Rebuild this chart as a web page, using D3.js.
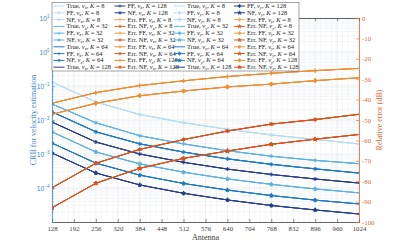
<!DOCTYPE html>
<html><head><meta charset="utf-8">
<script src="https://cdn.jsdelivr.net/npm/d3@7"></script>
<style>html,body{margin:0;padding:0;background:#fff;} svg{display:block;font-family:"Liberation Serif","DejaVu Serif",serif;}</style>
</head><body><svg id="c" width="397" height="249"></svg>
<script>
// ---------- data ----------
const antennas = [128, 256, 384, 512, 640, 768, 896, 1024];
const xTicks = [128, 192, 256, 320, 384, 448, 512, 576, 640, 704, 768, 832, 896, 960, 1024];
const kValues = [8, 32, 64, 128];
// CRB (True / FF / NF coincide), rows = K 8,32,64,128
const crbVx = [
  [1.31e-1, 3.38e-2, 1.45e-2, 8.34e-3, 5.32e-3, 3.62e-3, 2.70e-3, 1.97e-3],
  [2.95e-2, 8.3e-3, 3.45e-3, 1.98e-3, 1.25e-3, 8.6e-4, 6.5e-4, 5.2e-4],
  [1.74e-2, 4.5e-3, 1.99e-3, 1.14e-3, 7.2e-4, 4.97e-4, 3.66e-4, 2.75e-4],
  [8.7e-3, 2.25e-3, 1.0e-3, 5.7e-4, 3.6e-4, 2.5e-4, 1.84e-4, 1.40e-4]
];
const crbVy = [
  [1.72e-2, 4.45e-3, 1.97e-3, 1.13e-3, 7.15e-4, 4.93e-4, 3.63e-4, 2.77e-4],
  [4.47e-3, 1.15e-3, 5.12e-4, 2.92e-4, 1.85e-4, 1.28e-4, 9.4e-5, 7.2e-5],
  [2.09e-3, 5.4e-4, 2.39e-4, 1.36e-4, 8.7e-5, 6.0e-5, 4.4e-5, 3.4e-5],
  [1.07e-3, 2.77e-4, 1.23e-4, 7.0e-5, 4.45e-5, 3.06e-5, 2.26e-5, 1.72e-5]
];
// Relative error in dB (curves for different K coincide)
const errFFvx = [-41.8, -36.6, -33.1, -30.8, -28.7, -27.1, -25.8, -24.7];
const errFFvy = [-47.2, -41.8, -38.1, -35.8, -33.8, -32.4, -30.7, -29.3];
const errNFvx = [-83.2, -71.2, -64.4, -59.6, -55.4, -52.0, -49.8, -47.2];
const errNFvy = [-93.0, -81.0, -73.7, -68.8, -65.2, -61.9, -59.4, -57.1];
const leftTicks = [1e1, 1e0, 1e-1, 1e-2, 1e-3, 1e-4];
const leftTickExp = ["1", "0", "\u22121", "\u22122", "\u22123", "\u22124"];
const rightTicks = [0, -10, -20, -30, -40, -50, -60, -70, -80, -90, -100];

// ---------- style ----------
const crbColors = ["#b7dbf4", "#5cb2e6", "#1f7ac6", "#263f8d"];
const ffErrColors = ["#f6a658", "#f49c44", "#f29238", "#f08c2f"];
const nfErrColors = ["#e2652c", "#de5d24", "#db571f", "#d8521b"];
const leftColor = "#3a8bd0", rightColor = "#e0652f", axisColor = "#404040";

const W = 397, H = 249;
const L = 52, R = 359, T = 18, B = 222;
const svg = d3.select("#c");

const x = d3.scaleLinear().domain([128, 1024]).range([L, R]);
const yL = d3.scaleLog().domain([1e-5, 1e1]).range([B, T]);
const yR = d3.scaleLinear().domain([-100, 0]).range([B, T]);

// ---------- grid ----------
const grid = svg.append("g");
const minorX = d3.range(128, 1025, 16).filter(v => (v - 128) % 64 !== 0);
grid.selectAll(".mx").data(minorX).join("line")
  .attr("x1", d => x(d)).attr("x2", d => x(d)).attr("y1", T).attr("y2", B)
  .attr("stroke", "#eef0f3").attr("stroke-width", 0.6);
const minorY = [];
for (let e = -5; e < 1; e++) for (let m = 2; m <= 9; m++) minorY.push(m * Math.pow(10, e));
grid.selectAll(".my").data(minorY).join("line")
  .attr("x1", L).attr("x2", R).attr("y1", d => yL(d)).attr("y2", d => yL(d))
  .attr("stroke", "#eef0f3").attr("stroke-width", 0.6);
grid.selectAll(".gx").data(xTicks).join("line")
  .attr("x1", d => x(d)).attr("x2", d => x(d)).attr("y1", T).attr("y2", B)
  .attr("stroke", "#dfe2e7").attr("stroke-width", 0.6);
grid.selectAll(".gy").data(leftTicks).join("line")
  .attr("x1", L).attr("x2", R).attr("y1", d => yL(d)).attr("y2", d => yL(d))
  .attr("stroke", "#dfe2e7").attr("stroke-width", 0.6);

// ---------- markers ----------
function markerPath(type, s) {
  if (type === "plus") return `M${-s},0H${s}M0,${-s}V${s}`;
  if (type === "aster") { const a = s * 0.72; return `M${-s},0H${s}M0,${-s}V${s}M${-a},${-a}L${a},${a}M${-a},${a}L${a},${-a}`; }
  if (type === "diamond") return `M0,${-s * 1.1}L${s * 0.8},0L0,${s * 1.1}L${-s * 0.8},0Z`;
  if (type === "star") return d3.symbol(d3.symbolStar, s * s * 1.5)();
  return "";
}
function drawMarker(g, type, cx, cy, color, s) {
  if (!type) return;
  g.append("path").attr("d", markerPath(type, s)).attr("transform", `translate(${cx},${cy})`)
    .attr("fill", (type === "star" || type === "diamond") ? color : "none")
    .attr("stroke", color).attr("stroke-width", 0.7);
}

// ---------- series definitions ----------
const markerSets = { x: { FF: "plus", NF: "aster" }, y: { FF: "diamond", NF: "star" } };
const series = []; // legend order
["x", "y"].forEach(c => {
  const crb = c === "x" ? crbVx : crbVy;
  kValues.forEach((K, i) => {
    ["True", "FF", "NF"].forEach(est => series.push({
      comp: c, K, pre: est + ", ", axis: "L", values: crb[i], color: crbColors[i], ki: i,
      marker: est === "True" ? null : markerSets[c][est]
    }));
  });
  kValues.forEach((K, i) => {
    series.push({ comp: c, K, pre: "Err. FF, ", axis: "R", values: c === "x" ? errFFvx : errFFvy, color: ffErrColors[i], ki: i, marker: markerSets[c].FF });
    series.push({ comp: c, K, pre: "Err. NF, ", axis: "R", values: c === "x" ? errNFvx : errNFvy, color: nfErrColors[i], ki: i, marker: markerSets[c].NF });
  });
});

// ---------- plot lines ----------
svg.append("clipPath").attr("id", "clip").append("rect").attr("x", L).attr("y", T).attr("width", R - L).attr("height", B - T);
const plot = svg.append("g").attr("clip-path", "url(#clip)");
const drawOrder = series.slice().sort((a, b) => (a.axis === b.axis ? a.ki - b.ki : (a.axis === "L" ? -1 : 1)));
drawOrder.forEach(s => {
  const ys = s.axis === "L" ? yL : yR;
  const pts = antennas.map((a, i) => [x(a), ys(s.values[i])]);
  plot.append("path").attr("d", d3.line()(pts)).attr("fill", "none")
    .attr("stroke", s.color).attr("stroke-width", 1);
  if (s.marker) pts.slice(0, pts.length - 1).forEach(p => drawMarker(plot, s.marker, p[0], p[1], s.color, 1.9));
});

// ---------- axes ----------
const axB = svg.append("g").attr("transform", `translate(0,${B})`)
  .call(d3.axisBottom(x).tickValues(xTicks).tickSize(-3).tickPadding(4).tickFormat(d3.format("d")));
axB.select(".domain").attr("stroke", axisColor).attr("stroke-width", 0.8);
axB.selectAll(".tick line").attr("stroke", axisColor).attr("stroke-width", 0.6);
axB.selectAll(".tick text").attr("fill", axisColor).attr("font-size", "6.8px").attr("font-family", "Liberation Serif");

const axT = svg.append("g").attr("transform", `translate(0,${T})`)
  .call(d3.axisTop(x).tickValues(xTicks).tickSize(-3).tickFormat(""));
axT.select(".domain").attr("stroke", axisColor).attr("stroke-width", 0.8);
axT.selectAll(".tick line").attr("stroke", axisColor).attr("stroke-width", 0.6);

const axLminor = svg.append("g").attr("transform", `translate(${L},0)`)
  .call(d3.axisLeft(yL).tickValues(minorY).tickSize(-1.6).tickFormat(""));
axLminor.select(".domain").remove();
axLminor.selectAll(".tick line").attr("stroke", leftColor).attr("stroke-width", 0.5);
const axL = svg.append("g").attr("transform", `translate(${L},0)`)
  .call(d3.axisLeft(yL).tickValues(leftTicks).tickSize(-3).tickFormat(""));
axL.select(".domain").attr("stroke", leftColor).attr("stroke-width", 0.8);
axL.selectAll(".tick line").attr("stroke", leftColor).attr("stroke-width", 0.6);
axL.selectAll(".tick").each(function (d, i) {
  const t = d3.select(this).append("text").attr("x", -2.5).attr("y", 2.4)
    .attr("text-anchor", "end").attr("fill", leftColor).attr("font-size", "6.8px");
  t.append("tspan").text("10");
  t.append("tspan").attr("dy", -3).attr("font-size", "4.6px").text(leftTickExp[i]);
});

const axR = svg.append("g").attr("transform", `translate(${R},0)`)
  .call(d3.axisRight(yR).tickValues(rightTicks).tickSize(-3).tickPadding(3).tickFormat(d => d === 0 ? "0" : "-" + Math.abs(d)));
axR.select(".domain").attr("stroke", rightColor).attr("stroke-width", 0.8);
axR.selectAll(".tick line").attr("stroke", rightColor).attr("stroke-width", 0.6);
axR.selectAll(".tick text").attr("fill", rightColor).attr("font-size", "6.8px").attr("font-family", "Liberation Serif");

// axis labels
svg.append("text").attr("x", (L + R) / 2).attr("y", 240).attr("text-anchor", "middle")
  .attr("font-size", "8px").attr("fill", axisColor).text("Antenna");
svg.append("text").attr("transform", `translate(34,${(T + B) / 2}) rotate(-90)`).attr("text-anchor", "middle")
  .attr("dominant-baseline", "middle").attr("font-size", "8px").attr("fill", leftColor).text("CRB for velocity estimation");
svg.append("text").attr("transform", `translate(380,${(T + B) / 2}) rotate(-90)`).attr("text-anchor", "middle")
  .attr("dominant-baseline", "middle").attr("font-size", "8px").attr("fill", rightColor).text("Relative error (dB)");

// ---------- legend ----------
const lg = svg.append("g");
lg.append("rect").attr("x", 52).attr("y", 2.5).attr("width", 247).attr("height", 68.5)
  .attr("fill", "#fff").attr("stroke", "#666").attr("stroke-width", 0.6);
const colX = [53.5, 114.5, 174, 234];
series.forEach((s, idx) => {
  const col = Math.floor(idx / 10), row = idx % 10;
  const x0 = colX[col], yc = 6 + row * 6.8;
  const g = lg.append("g");
  g.append("line").attr("x1", x0).attr("x2", x0 + 11).attr("y1", yc).attr("y2", yc)
    .attr("stroke", s.color).attr("stroke-width", 1);
  drawMarker(g, s.marker, x0 + 5.5, yc, s.color, 1.7);
  const t = g.append("text").attr("x", x0 + 13).attr("y", yc + 2).attr("font-size", "6.5px").attr("fill", "#222");
  t.append("tspan").text(s.pre);
  t.append("tspan").attr("font-style", "italic").text("v");
  t.append("tspan").attr("font-style", "italic").attr("font-size", "4.6px").attr("dy", 1.2).text(s.comp);
  t.append("tspan").attr("dy", -1.2).text(", ");
  t.append("tspan").attr("font-style", "italic").text("K");
  t.append("tspan").text(" = " + s.K);
});
</script></body></html>
